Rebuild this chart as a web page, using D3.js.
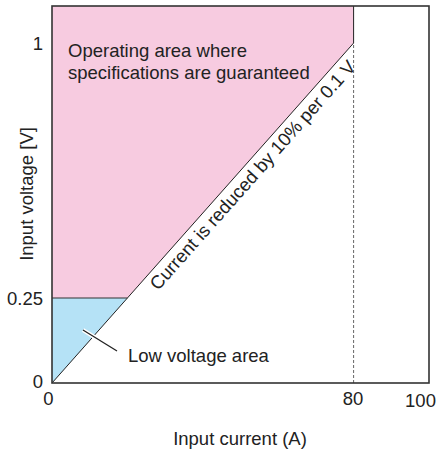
<!DOCTYPE html>
<html><head><meta charset="utf-8">
<script src="https://cdn.jsdelivr.net/npm/d3@7"></script>
<style>body{margin:0;background:#fff}svg text{font-family:"Liberation Sans",Arial,sans-serif;fill:#222}</style>
</head><body>
<svg id="c" width="446" height="454"></svg>
<script>
const xTicks = [0, 80, 100];
const yTicks = [0, 0.25, 1];
const yTickLabels = ["0", "0.25", "1"];
const xDomain = [0, 100];
const yDomain = [0, 1.109];
const lowVoltage = 0.25;
const maxCurrent = 80;
const maxVoltage = 1;
const pinkArea = [[0, 0.25], [0, 1.109], [80, 1.109], [80, 1], [20, 0.25]];
const blueArea = [[0, 0], [0, 0.25], [20, 0.25]];

const svg = d3.select("#c");
const m = {l: 52, r: 17, t: 6, b: 71};
const W = 446, H = 454;
const FS = 18.5;
const x = d3.scaleLinear().domain(xDomain).range([m.l, W - m.r]);
const y = d3.scaleLinear().domain(yDomain).range([H - m.b, m.t]);
const line = d3.line().x(d => x(d[0])).y(d => y(d[1]));

svg.append("path").attr("d", line(pinkArea) + "Z").attr("fill", "#f7cbe0");
svg.append("path").attr("d", line(blueArea) + "Z").attr("fill", "#b5e2f6");

// dashed vertical line
svg.append("path").attr("d", line([[maxCurrent, 0], [maxCurrent, maxVoltage]]))
  .attr("stroke", "#666").attr("stroke-width", 1).attr("stroke-dasharray", "3,2").attr("fill", "none");
// solid boundary lines
svg.append("path").attr("d", line([[maxCurrent, yDomain[1]], [maxCurrent, maxVoltage]]))
  .attr("stroke", "#222").attr("stroke-width", 1).attr("fill", "none");
svg.append("path").attr("d", line([[0, 0], [maxCurrent, maxVoltage]]))
  .attr("stroke", "#222").attr("stroke-width", 1).attr("fill", "none");
svg.append("path").attr("d", line([[0, lowVoltage], [lowVoltage * maxCurrent / maxVoltage, lowVoltage]]))
  .attr("stroke", "#333").attr("stroke-width", 1.2).attr("fill", "none");

// frame
svg.append("rect").attr("x", x(0)).attr("y", y(yDomain[1])).attr("width", x(100) - x(0)).attr("height", y(0) - y(yDomain[1]))
  .attr("fill", "none").attr("stroke", "#333").attr("stroke-width", 1.6);

// axes
const xa = svg.append("g").attr("transform", `translate(0,${y(0)})`)
  .call(d3.axisBottom(x).tickValues(xTicks).tickSize(0).tickPadding(0).tickFormat(d3.format("d")));
xa.select(".domain").remove();
xa.selectAll("text").attr("font-size", FS).attr("fill", "#222").attr("dy", null)
  .attr("dx", d => d === 0 ? -4 : (d === 100 ? -9 : -1))
  .attr("y", d => d === 100 ? 24 : 22);
const ya = svg.append("g").attr("transform", `translate(${x(0)},0)`)
  .call(d3.axisLeft(y).tickValues(yTicks).tickSize(0).tickPadding(9).tickFormat((d, i) => yTickLabels[i]));
ya.select(".domain").remove();
ya.selectAll("text").attr("font-size", FS).attr("fill", "#222")
  .attr("dy", d => d === 0 ? "0.22em" : "0.36em");

// axis titles
svg.append("text").attr("x", 240).attr("y", 445).attr("text-anchor", "middle")
  .attr("font-size", FS).text("Input current (A)");
svg.append("text").attr("transform", `translate(33,194) rotate(-90)`)
  .attr("text-anchor", "middle").attr("font-size", FS).text("Input voltage [V]");

// annotations
svg.append("text").attr("x", 68).attr("y", 57).attr("font-size", FS).text("Operating area where");
svg.append("text").attr("x", 68).attr("y", 79).attr("font-size", FS).text("specifications are guaranteed");

const ang = Math.atan2(y(0) - y(maxVoltage), x(maxCurrent) - x(0)) * 180 / Math.PI;
const tPos = 0.635;
svg.append("text").attr("transform", `translate(${x(maxCurrent * tPos)},${y(maxVoltage * tPos)}) rotate(${-ang})`)
  .attr("text-anchor", "middle").attr("font-size", FS).attr("y", 18.5).text("Current is reduced by 10% per 0.1 V");

svg.append("path").attr("d", "M83,330L117,351").attr("stroke", "#fff").attr("stroke-width", 4).attr("fill", "none");
svg.append("path").attr("d", "M83,330L117,351").attr("stroke", "#222").attr("stroke-width", 1.3).attr("fill", "none");
svg.append("text").attr("x", 128).attr("y", 362).attr("font-size", FS).text("Low voltage area");
</script>
</body></html>
